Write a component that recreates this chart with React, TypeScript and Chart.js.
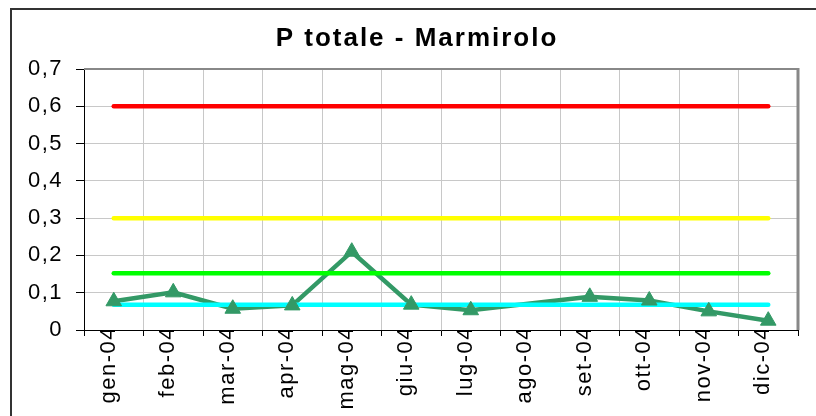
import React, { useEffect, useRef } from "react";
import { Chart, registerables } from "chart.js";

Chart.register(...registerables);

const chartTitle = "P totale - Marmirolo";
const months = ["gen-04", "feb-04", "mar-04", "apr-04", "mag-04", "giu-04", "lug-04", "ago-04", "set-04", "ott-04", "nov-04", "dic-04"];
const pTotale = [0.077, 0.101, 0.057, 0.066, 0.21, 0.068, 0.053, null, 0.089, 0.079, 0.05, 0.025];
const limitRed = [0.6, 0.6, 0.6, 0.6, 0.6, 0.6, 0.6, 0.6, 0.6, 0.6, 0.6, 0.6];
const limitYellow = [0.3, 0.3, 0.3, 0.3, 0.3, 0.3, 0.3, 0.3, 0.3, 0.3, 0.3, 0.3];
const limitGreen = [0.152, 0.152, 0.152, 0.152, 0.152, 0.152, 0.152, 0.152, 0.152, 0.152, 0.152, 0.152];
const limitCyan = [0.068, 0.068, 0.068, 0.068, 0.068, 0.068, 0.068, 0.068, 0.068, 0.068, 0.068, 0.068];
const yTickLabels = ["0", "0,1", "0,2", "0,3", "0,4", "0,5", "0,6", "0,7"];

const FONT = '"Liberation Sans", Arial, sans-serif';
const SERIES_COLOR = "#339966";

const framePlugin = {
  id: "frame",
  beforeDraw(chart: any) {
    const ctx = chart.ctx;
    ctx.save();
    ctx.fillStyle = "#ffffff";
    ctx.fillRect(0, 0, chart.width, chart.height);
    ctx.strokeStyle = "#333333";
    ctx.lineWidth = 2;
    ctx.strokeRect(11, 9, 900, 500);
    ctx.restore();
    ctx.letterSpacing = "1.5px";
  },
  beforeDatasetsDraw(chart: any) {
    const { ctx, chartArea: a } = chart;
    ctx.save();
    ctx.strokeStyle = "#888888";
    ctx.lineWidth = 2;
    ctx.beginPath();
    ctx.moveTo(a.left, a.top);
    ctx.lineTo(a.right, a.top);
    ctx.stroke();
    ctx.lineWidth = 3;
    ctx.beginPath();
    ctx.moveTo(a.right, a.top - 1);
    ctx.lineTo(a.right, a.bottom);
    ctx.stroke();
    ctx.restore();
  },
  afterDraw(chart: any) {
    const ctx = chart.ctx;
    ctx.save();
    ctx.font = `bold 26px ${FONT}`;
    ctx.fillStyle = "#000000";
    ctx.textAlign = "center";
    ctx.textBaseline = "alphabetic";
    ctx.letterSpacing = "2px";
    ctx.fillText(chartTitle, 417, 46);
    ctx.restore();
  },
};

export default function App() {
  const canvasRef = useRef<HTMLCanvasElement | null>(null);

  useEffect(() => {
    if (!canvasRef.current) return;
    const limitDs = (data: number[], color: string, order: number) => ({
      type: "line" as const,
      data,
      borderColor: color,
      backgroundColor: color,
      borderWidth: 4.5,
      borderCapStyle: "round" as const,
      pointRadius: 0,
      order,
    });
    const chart = new Chart(canvasRef.current, {
      type: "line",
      data: {
        labels: months,
        datasets: [
          {
            data: pTotale,
            showLine: false,
            pointStyle: "triangle",
            pointRadius: 9,
            pointBackgroundColor: SERIES_COLOR,
            pointBorderColor: SERIES_COLOR,
            pointBorderWidth: 1,
            order: 0,
          },
          limitDs(limitCyan, "#00ffff", 1),
          limitDs(limitGreen, "#00ff00", 2),
          limitDs(limitYellow, "#ffff00", 3),
          limitDs(limitRed, "#ff0000", 4),
          {
            data: pTotale,
            borderColor: SERIES_COLOR,
            backgroundColor: SERIES_COLOR,
            borderWidth: 4.5,
            pointRadius: 0,
            spanGaps: true,
            order: 5,
          },
        ] as any,
      },
      options: {
        animation: false,
        responsive: false,
        devicePixelRatio: 1,
        layout: { padding: { top: 69, right: 18, left: 0, bottom: 0 } },
        plugins: {
          legend: { display: false },
          title: { display: false },
          tooltip: { enabled: false },
        },
        scales: {
          x: {
            type: "category",
            offset: true,
            afterFit: (s: any) => {
              s.height = 86;
            },
            grid: {
              offset: true,
              color: "#c8c8c8",
              tickColor: "#000000",
              tickLength: 6,
            },
            border: { color: "#000000", width: 1 },
            ticks: {
              autoSkip: false,
              minRotation: 90,
              maxRotation: 90,
              padding: -10,
              labelOffset: -5,
              color: "#000000",
              font: { family: FONT, size: 22 },
            },
          },
          y: {
            min: 0,
            max: 0.7,
            afterFit: (s: any) => {
              s.width = 84;
            },
            grid: {
              color: "#c8c8c8",
              tickColor: "#000000",
              tickLength: 8,
            },
            border: { color: "#000000", width: 1 },
            ticks: {
              stepSize: 0.1,
              padding: 13,
              color: "#000000",
              font: { family: FONT, size: 22 },
              callback: (v: any) => yTickLabels[Math.round(Number(v) * 10)],
            },
          },
        },
      },
      plugins: [framePlugin],
    });
    return () => chart.destroy();
  }, []);

  return (
    <div style={{ position: "absolute", left: 0, top: 0, width: 816, height: 416 }}>
      <canvas ref={canvasRef} width={816} height={416} style={{ width: 816, height: 416, display: "block" }} />
    </div>
  );
}
